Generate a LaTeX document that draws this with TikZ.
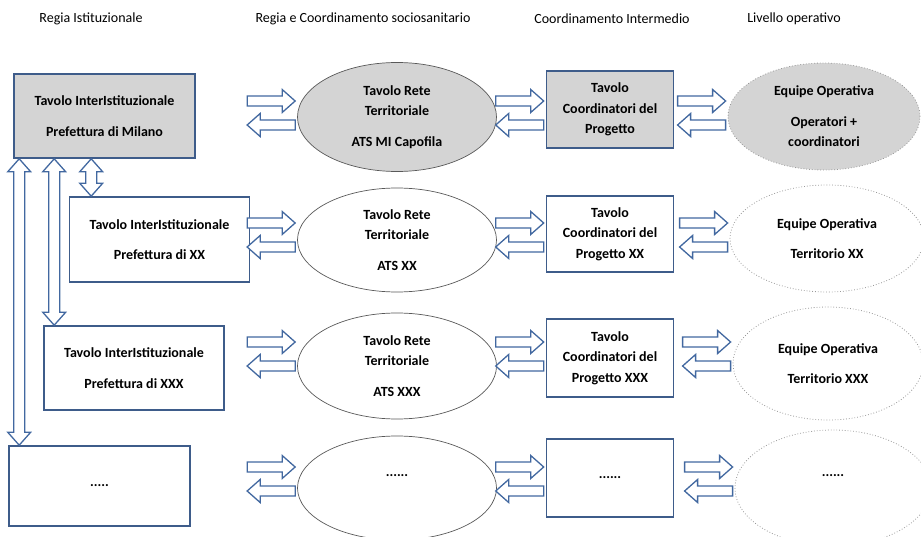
\documentclass[tikz,border=0pt]{standalone}
\usepackage{fontspec}
\setmainfont{Carlito}
\usetikzlibrary{shapes.geometric,calc}
\definecolor{boxblue}{RGB}{62,92,138}
\definecolor{arrowblue}{RGB}{66,104,160}
\definecolor{leadgray}{RGB}{212,212,212}
\tikzset{
  x=1pt, y=-1pt,
  testo/.style={font=\fontsize{14}{20.5}\selectfont\bfseries, align=center},
  tavolo/.style={testo, draw=boxblue, line width=1.6pt, inner sep=2pt},
  rete/.style={testo, ellipse, draw=black!65, line width=0.7pt, inner sep=0pt},
  equipe/.style={testo, ellipse, draw=black!40, dotted, line width=0.8pt, inner sep=0pt},
  capofila/.style={fill=leadgray},
  titolo/.style={font=\fontsize{14}{17}\selectfont},
  blockarr/.style={draw=arrowblue, line width=1.3pt, fill=white, line join=miter}
}
\newcommand\blockarrow[2]{%
  \draw[blockarr] let \p1=(#1), \p2=(#2), \n1={atan2(\y2-\y1,\x2-\x1)}, \n2={veclen(\x2-\x1,\y2-\y1)} in
    [shift={(\p1)}, rotate=\n1]
    (0pt,-5pt) -- (\n2-13pt,-5pt) -- (\n2-13pt,-11.5pt) -- (\n2+0pt,0pt)
    -- (\n2-13pt,11.5pt) -- (\n2-13pt,5pt) -- (0pt,5pt) -- cycle;}
\newcommand\dblarrow[2]{%
  \draw[blockarr] let \p1=(#1), \p2=(#2), \n1={atan2(\y2-\y1,\x2-\x1)}, \n2={veclen(\x2-\x1,\y2-\y1)} in
    [shift={(\p1)}, rotate=\n1]
    (0pt,0pt) -- (13pt,11.5pt) -- (13pt,5.5pt) -- (\n2-13pt,5.5pt) -- (\n2-13pt,11.5pt) -- (\n2+0pt,0pt)
    -- (\n2-13pt,-11.5pt) -- (\n2-13pt,-5.5pt) -- (13pt,-5.5pt) -- (13pt,-11.5pt) -- cycle;}
\newcommand\arrowpair[2]{%
  \blockarrow{$(#1.west |- #2)+(-50,0)$}{$(#1.west |- #2)+(-2,0)$}
  \blockarrow{$(#1.west |- #2)+(-2,24)$}{$(#1.west |- #2)+(-50,24)$}}
\begin{document}
\begin{tikzpicture}
  \useasboundingbox (0,0) rectangle (921,537);
  \clip (0,0) rectangle (921,537);
  \node[titolo] (h1) at (91,19) {Regia Istituzionale};
  \node[titolo] (h2) at (363,19) {Regia e Coordinamento sociosanitario};
  \node[titolo] (h3) at (612,19) {Coordinamento Intermedio};
  \node[titolo] (h4) at (794,19) {Livello operativo};

  \node[tavolo, capofila, minimum width=181, minimum height=84] (A) at (104.5,116) {Tavolo InterIstituzionale\\[10pt]Prefettura di Milano};
  \node[tavolo, minimum width=180, minimum height=85] (B) at (159.5,239.5) {Tavolo InterIstituzionale\\[10pt]Prefettura di XX};
  \node[tavolo, minimum width=180, minimum height=84] (C) at (134,368) {Tavolo InterIstituzionale\\[10pt]Prefettura di XXX};
  \node[tavolo, minimum width=181, minimum height=80] (D) at (99.5,486) {.....};

  \node[rete, capofila, minimum width=199, minimum height=109] (E1) at (397,117) {Tavolo Rete\\Territoriale\\[10pt]ATS MI Capofila};
  \node[rete, minimum width=199, minimum height=104] (E2) at (397,240) {Tavolo Rete\\Territoriale\\[10pt]ATS XX};
  \node[rete, minimum width=199, minimum height=106] (E3) at (397,366) {Tavolo Rete\\Territoriale\\[10pt]ATS XXX};
  \node[rete, minimum width=199, minimum height=104] (E4) at (397,488) {\raisebox{25pt}{......}};

  \node[tavolo, capofila, minimum width=127, minimum height=77] (R1) at (610,109.5) {Tavolo\\Coordinatori del\\Progetto};
  \node[tavolo, minimum width=127, minimum height=76] (R2) at (610,234) {Tavolo\\Coordinatori del\\Progetto XX};
  \node[tavolo, minimum width=127, minimum height=78] (R3) at (610,358) {Tavolo\\Coordinatori del\\Progetto XXX};
  \node[tavolo, minimum width=127, minimum height=78] (R4) at (610,478) {......};

  \node[equipe, capofila, minimum width=192, minimum height=107] (Q1) at (824,116.5) {Equipe Operativa\\[10pt]Operatori +\\coordinatori};
  \node[equipe, minimum width=194, minimum height=107] (Q2) at (827,238.5) {Equipe Operativa\\[10pt]Territorio XX};
  \node[equipe, minimum width=190, minimum height=113] (Q3) at (828,363.5) {Equipe Operativa\\[10pt]Territorio XXX};
  \node[equipe, minimum width=196, minimum height=116] (Q4) at (833,488) {\raisebox{25pt}{......}};

  \coordinate (row1) at (0,101);
  \coordinate (row2) at (0,223);
  \coordinate (row3) at (0,342);
  \coordinate (row4) at (0,467);
  \arrowpair{E1}{row1}
  \arrowpair{R1}{row1}
  \arrowpair{Q1}{row1}
  \arrowpair{E2}{row2}
  \arrowpair{R2}{row2}
  \arrowpair{Q2}{row2}
  \arrowpair{E3}{row3}
  \arrowpair{R3}{row3}
  \arrowpair{Q3}{row3}
  \arrowpair{E4}{row4}
  \arrowpair{R4}{row4}
  \arrowpair{Q4}{row4}

  \coordinate (v1) at ($(A.south west)+(6,0)$);
  \coordinate (v2) at ($(A.south west)+(41,0)$);
  \coordinate (v3) at ($(A.south west)+(78,0)$);
  \dblarrow{v1}{v1 |- D.north}
  \dblarrow{v2}{v2 |- C.north}
  \dblarrow{v3}{v3 |- B.north}
\end{tikzpicture}
\end{document}
